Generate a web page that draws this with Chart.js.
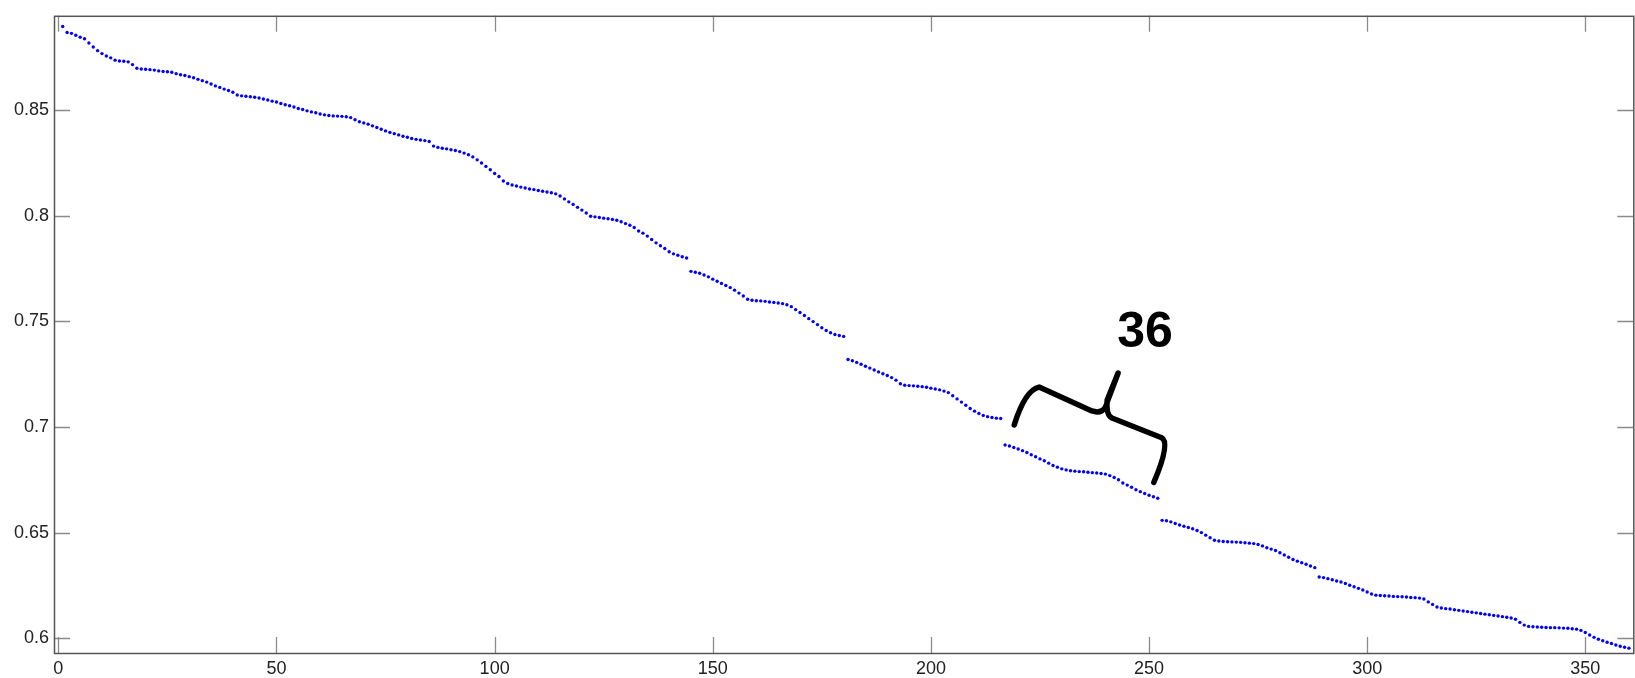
<!DOCTYPE html>
<html>
<head>
<meta charset="utf-8">
<script src="https://cdn.jsdelivr.net/npm/chart.js@4"></script>
<style>
  html, body { margin: 0; padding: 0; background: #fff; }
  #wrap { width: 1635px; height: 678px; }
</style>
</head>
<body>
<div id="wrap"><canvas id="chart" width="1635" height="678"></canvas></div>
<script>
// Values, one row of 36 per block
const yValues = [
  // 1 - 36
  0.8896, 0.8868, 0.8864, 0.8855, 0.8846, 0.8838, 0.8818, 0.8799, 0.8782, 0.8768, 0.8757, 0.8748,
  0.8737, 0.8733, 0.8732, 0.8729, 0.8716, 0.8699, 0.8695, 0.8694, 0.8692, 0.8690, 0.8686, 0.8683,
  0.8682, 0.8680, 0.8673, 0.8668, 0.8664, 0.8659, 0.8654, 0.8646, 0.8640, 0.8633, 0.8624, 0.8615,
  // 37 - 72
  0.8608, 0.8600, 0.8593, 0.8585, 0.8572, 0.8568, 0.8566, 0.8564, 0.8561, 0.8558, 0.8553, 0.8548,
  0.8543, 0.8539, 0.8532, 0.8526, 0.8521, 0.8515, 0.8508, 0.8503, 0.8497, 0.8492, 0.8488, 0.8482,
  0.8478, 0.8475, 0.8473, 0.8472, 0.8471, 0.8469, 0.8465, 0.8455, 0.8445, 0.8440, 0.8434, 0.8426,
  // 73 - 108
  0.8418, 0.8410, 0.8402, 0.8395, 0.8389, 0.8383, 0.8377, 0.8372, 0.8366, 0.8362, 0.8359, 0.8356,
  0.8352, 0.8330, 0.8324, 0.8320, 0.8317, 0.8313, 0.8309, 0.8304, 0.8297, 0.8289, 0.8279, 0.8265,
  0.8250, 0.8234, 0.8218, 0.8200, 0.8186, 0.8165, 0.8153, 0.8146, 0.8141, 0.8136, 0.8132, 0.8127,
  // 109 - 144
  0.8124, 0.8120, 0.8116, 0.8113, 0.8109, 0.8104, 0.8094, 0.8080, 0.8066, 0.8054, 0.8040, 0.8027,
  0.8013, 0.7998, 0.7995, 0.7992, 0.7989, 0.7986, 0.7983, 0.7979, 0.7972, 0.7963, 0.7955, 0.7945,
  0.7928, 0.7918, 0.7904, 0.7888, 0.7872, 0.7858, 0.7845, 0.7830, 0.7820, 0.7813, 0.7806, 0.7800,
  // 145 - 180
  0.7737, 0.7733, 0.7728, 0.7720, 0.7711, 0.7700, 0.7690, 0.7680, 0.7670, 0.7660, 0.7648, 0.7634,
  0.7620, 0.7605, 0.7600, 0.7598, 0.7597, 0.7595, 0.7592, 0.7590, 0.7587, 0.7584, 0.7579, 0.7570,
  0.7556, 0.7542, 0.7528, 0.7513, 0.7499, 0.7485, 0.7470, 0.7457, 0.7446, 0.7438, 0.7433, 0.7429,
  // 181 - 216
  0.7320, 0.7314, 0.7306, 0.7297, 0.7288, 0.7279, 0.7270, 0.7261, 0.7252, 0.7244, 0.7234, 0.7222,
  0.7205, 0.7198, 0.7196, 0.7195, 0.7193, 0.7191, 0.7188, 0.7184, 0.7180, 0.7176, 0.7170, 0.7163,
  0.7148, 0.7133, 0.7118, 0.7103, 0.7088, 0.7075, 0.7064, 0.7055, 0.7049, 0.7045, 0.7042, 0.7040,
  // 217 - 252
  0.6915, 0.6910, 0.6903, 0.6896, 0.6888, 0.6879, 0.6869, 0.6859, 0.6849, 0.6840, 0.6829, 0.6818,
  0.6810, 0.6802, 0.6797, 0.6793, 0.6791, 0.6789, 0.6788, 0.6786, 0.6784, 0.6782, 0.6780, 0.6777,
  0.6770, 0.6761, 0.6750, 0.6735, 0.6725, 0.6715, 0.6703, 0.6694, 0.6685, 0.6677, 0.6670, 0.6663,
  // 253 - 288
  0.6558, 0.6556, 0.6551, 0.6543, 0.6536, 0.6530, 0.6524, 0.6518, 0.6510, 0.6500, 0.6488, 0.6476,
  0.6464, 0.6460, 0.6458, 0.6457, 0.6456, 0.6455, 0.6454, 0.6452, 0.6450, 0.6448, 0.6444, 0.6437,
  0.6428, 0.6422, 0.6415, 0.6405, 0.6394, 0.6383, 0.6373, 0.6365, 0.6357, 0.6350, 0.6342, 0.6334,
  // 289 - 324
  0.6290, 0.6287, 0.6282, 0.6277, 0.6271, 0.6266, 0.6259, 0.6251, 0.6244, 0.6236, 0.6228, 0.6219,
  0.6209, 0.6204, 0.6202, 0.6201, 0.6200, 0.6198, 0.6197, 0.6196, 0.6195, 0.6193, 0.6192, 0.6190,
  0.6186, 0.6172, 0.6160, 0.6148, 0.6143, 0.6140, 0.6138, 0.6135, 0.6132, 0.6129, 0.6126, 0.6123,
  // 325 - 360
  0.6120, 0.6117, 0.6114, 0.6111, 0.6108, 0.6105, 0.6102, 0.6099, 0.6096, 0.6090, 0.6075, 0.6062,
  0.6056, 0.6054, 0.6053, 0.6052, 0.6051, 0.6050, 0.6050, 0.6049, 0.6048, 0.6047, 0.6045, 0.6043,
  0.6037, 0.6027, 0.6015, 0.6004, 0.5995, 0.5988, 0.5981, 0.5975, 0.5968, 0.5962, 0.5957, 0.5953
];

const xTicks = [0, 50, 100, 150, 200, 250, 300, 350];
const xTickLabels = ['0', '50', '100', '150', '200', '250', '300', '350'];
const yTicks = [0.6, 0.65, 0.7, 0.75, 0.8, 0.85];
const yTickLabels = ['0.6', '0.65', '0.7', '0.75', '0.8', '0.85'];

// hand drawn brace over one block, in data units
const bracePath = [
  ['M', 219.1, 0.7010],
  ['Q', 221.6, 0.7175, 224.8, 0.7189],
  ['L', 236.9, 0.7076],
  ['Q', 239.7, 0.7057, 240.4, 0.7118],
  ['L', 242.9, 0.7255],
  ['L', 240.4, 0.7128],
  ['Q', 240.1, 0.7057, 241.5, 0.7043],
  ['L', 252.9, 0.6949],
  ['Q', 255.0, 0.6926, 251.1, 0.6738]
];
const braceLabel = { text: '36', x: 249.1, y: 0.7446 };

const points = yValues.map((v, i) => ({ x: i + 1, y: v }));

const tickFont = { family: 'Liberation Sans', size: 18 };

// box, inward ticks on all four sides, and the brace
const framePlugin = {
  id: 'frame',
  afterDatasetsDraw(chart) {
    const { ctx, chartArea: a, scales: { x, y } } = chart;
    ctx.save();
    ctx.strokeStyle = '#8a8a8a';
    ctx.lineWidth = 1.3;
    ctx.beginPath();
    xTicks.forEach(v => {
      const px = Math.round(x.getPixelForValue(v)) + 0.5;
      ctx.moveTo(px, a.bottom); ctx.lineTo(px, a.bottom - 16);
      ctx.moveTo(px, a.top); ctx.lineTo(px, a.top + 16);
    });
    yTicks.forEach(v => {
      const py = Math.round(y.getPixelForValue(v)) + 0.5;
      ctx.moveTo(a.left, py); ctx.lineTo(a.left + 16, py);
      ctx.moveTo(a.right, py); ctx.lineTo(a.right - 16, py);
    });
    ctx.stroke();

    ctx.strokeStyle = '#555';
    ctx.lineWidth = 1.5;
    ctx.strokeRect(a.left + 0.5, a.top + 0.5, a.right - a.left, a.bottom - a.top);

    // brace
    ctx.strokeStyle = '#000';
    ctx.lineWidth = 5.5;
    ctx.lineCap = 'round';
    ctx.lineJoin = 'round';
    ctx.beginPath();
    bracePath.forEach(s => {
      const px = v => x.getPixelForValue(v);
      const py = v => y.getPixelForValue(v);
      if (s[0] === 'M') ctx.moveTo(px(s[1]), py(s[2]));
      else if (s[0] === 'L') ctx.lineTo(px(s[1]), py(s[2]));
      else ctx.quadraticCurveTo(px(s[1]), py(s[2]), px(s[3]), py(s[4]));
    });
    ctx.stroke();

    ctx.fillStyle = '#000';
    ctx.font = 'bold 50px "Liberation Sans"';
    ctx.textAlign = 'center';
    ctx.textBaseline = 'middle';
    ctx.fillText(braceLabel.text, x.getPixelForValue(braceLabel.x), y.getPixelForValue(braceLabel.y));
    ctx.restore();
  }
};

const ctx = document.getElementById('chart').getContext('2d');
new Chart(ctx, {
  type: 'scatter',
  data: {
    datasets: [{
      data: points,
      showLine: false,
      pointRadius: 1.7,
      pointHoverRadius: 1.7,
      pointBorderWidth: 0,
      backgroundColor: '#0000ff',
      borderColor: '#0000ff'
    }]
  },
  options: {
    responsive: false,
    animation: false,
    devicePixelRatio: 1,
    layout: { padding: { top: 11, right: 0, left: 0, bottom: 0 } },
    plugins: { legend: { display: false }, tooltip: { enabled: false } },
    scales: {
      x: {
        type: 'linear',
        min: -1,
        max: 361,
        afterBuildTicks: s => { s.ticks = xTicks.map(v => ({ value: v })); },
        afterFit: s => { s.height = 25; },
        grid: { display: false, drawTicks: false },
        border: { display: false },
        ticks: {
          font: tickFont,
          color: '#222',
          padding: 5,
          maxRotation: 0,
          autoSkip: false,
          callback: (v, i) => xTickLabels[i]
        }
      },
      y: {
        type: 'linear',
        min: 0.593,
        max: 0.8947,
        afterBuildTicks: s => { s.ticks = yTicks.map(v => ({ value: v })); },
        afterFit: s => { s.width = 54; },
        grid: { display: false, drawTicks: false },
        border: { display: false },
        ticks: {
          font: tickFont,
          color: '#222',
          padding: 5,
          autoSkip: false,
          callback: (v, i) => yTickLabels[i]
        }
      }
    }
  },
  plugins: [framePlugin]
});
</script>
</body>
</html>
